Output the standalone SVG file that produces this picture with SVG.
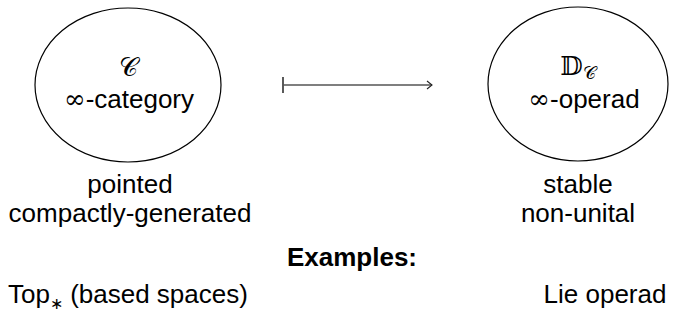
<svg xmlns="http://www.w3.org/2000/svg" width="679" height="324" viewBox="0 0 679 324">
  <style>
    .node { fill: none; stroke: #000; stroke-width: 1.2; }
    .lbl { font-family: "Liberation Sans", Arial, sans-serif; font-size: 26px; fill: #000; text-anchor: middle; }
    .left { text-anchor: start; }
    .math { font-family: "DejaVu Serif", "Liberation Serif", serif; }
    .sym { font-family: "DejaVu Serif", "Liberation Serif", serif; font-size: 26px; fill: #000; text-anchor: middle; }
    .edge { stroke: #555; stroke-width: 1.3; fill: none; }
  </style>
  <defs>
    <marker id="head" markerWidth="8" markerHeight="10" refX="6" refY="5" orient="auto" markerUnits="userSpaceOnUse">
      <path d="M1,1 L6,5 L1,9" fill="none" stroke="#222" stroke-width="1.1"/>
    </marker>
  </defs>

  <!-- source: the ∞-category C -->
  <g id="category">
    <ellipse class="node" cx="128" cy="85" rx="93" ry="77"/>
    <text class="sym" x="128" y="76">𝒞</text>
    <text class="lbl" x="129" y="108"><tspan class="math">∞</tspan>-category</text>
    <text class="lbl" x="130" y="193">pointed</text>
    <text class="lbl" x="130" y="222">compactly-generated</text>
  </g>

  <!-- target: the ∞-operad D_C -->
  <g id="operad">
    <ellipse class="node" cx="578" cy="84" rx="90" ry="77"/>
    <text class="sym" x="578" y="75">𝔻<tspan font-size="18" dy="4">𝒞</tspan></text>
    <text class="lbl" x="584" y="108"><tspan class="math">∞</tspan>-operad</text>
    <text class="lbl" x="578" y="193">stable</text>
    <text class="lbl" x="578" y="222">non-unital</text>
  </g>

  <!-- maps-to arrow -->
  <g id="connectors">
    <line x1="283" y1="77" x2="283" y2="93" stroke="#000" stroke-width="1.3"/>
    <line class="edge" x1="283" y1="85" x2="432" y2="85" marker-end="url(#head)"/>
  </g>

  <g id="examples">
    <text class="lbl" x="352" y="266" font-weight="bold">Examples:</text>
    <text class="lbl left" x="8" y="303">Top<tspan font-size="16" dy="6">∗</tspan><tspan dy="-6"> (based spaces)</tspan></text>
    <text class="lbl" x="605" y="303">Lie operad</text>
  </g>
</svg>
